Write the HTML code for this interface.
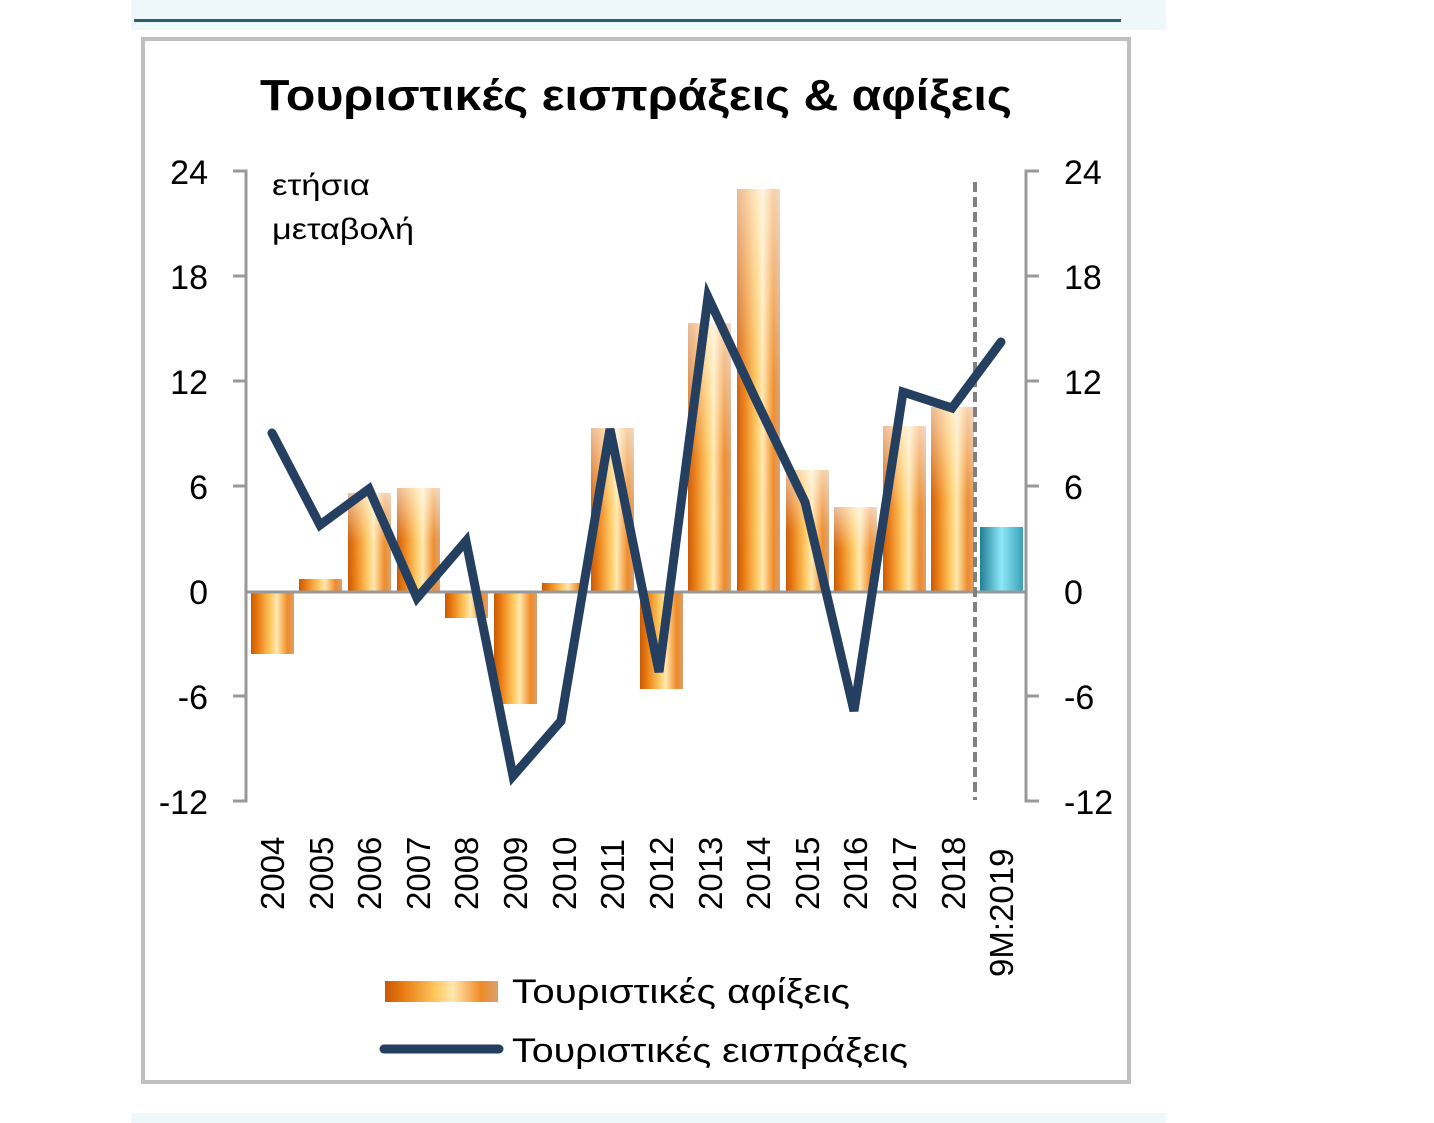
<!DOCTYPE html>
<html><head><meta charset="utf-8"><style>
html,body{margin:0;padding:0;background:#fff;width:1434px;height:1123px;overflow:hidden}
svg{display:block}
text{font-family:"Liberation Sans","DejaVu Sans",sans-serif}
</style></head><body>
<svg width="1434" height="1123" viewBox="0 0 1434 1123" xmlns="http://www.w3.org/2000/svg">
<defs>
<linearGradient id="og" x1="0" x2="1" y1="0" y2="0">
<stop offset="0" stop-color="#c85a08"/><stop offset="0.15" stop-color="#e8780f"/>
<stop offset="0.45" stop-color="#ffc860"/><stop offset="0.6" stop-color="#ffe8b0"/>
<stop offset="0.85" stop-color="#f08a25"/><stop offset="1" stop-color="#d8a070"/>
</linearGradient>
<linearGradient id="ov" x1="0" x2="0" y1="0" y2="1">
<stop offset="0" stop-color="#fff" stop-opacity="0.6"/><stop offset="0.5" stop-color="#fff" stop-opacity="0.05"/><stop offset="1" stop-color="#fff" stop-opacity="0"/>
</linearGradient>
<linearGradient id="bg" x1="0" x2="1" y1="0" y2="0">
<stop offset="0" stop-color="#1f7f98"/><stop offset="0.5" stop-color="#8ee8f8"/><stop offset="1" stop-color="#3aa0b8"/>
</linearGradient>
</defs>
<rect x="131" y="0" width="1035" height="30" fill="#eef7f9"/>
<rect x="134" y="19" width="987" height="3" fill="#2f5f6a"/>
<rect x="131" y="1113" width="1035" height="10" fill="#eef7f9"/>
<rect x="143" y="39" width="986" height="1043" fill="#fff" stroke="#bfbfbf" stroke-width="4"/>
<text x="260" y="110" font-size="44" font-weight="bold" fill="#000" textLength="752" lengthAdjust="spacingAndGlyphs">Τουριστικές εισπράξεις &amp; αφίξεις</text>
<g stroke="#999" stroke-width="3" fill="none">
<path d="M233 171H246V801H233"/>
<path d="M233 276H246M233 381H246M233 486H246M233 696H246"/>
<path d="M1039 171H1026V801H1039"/>
<path d="M1026 276H1039M1026 381H1039M1026 486H1039M1026 696H1039"/>
</g>
<g font-size="34" fill="#000" text-anchor="end">
<text x="208" y="184">24</text><text x="208" y="289">18</text><text x="208" y="394">12</text>
<text x="208" y="499">6</text><text x="208" y="604">0</text><text x="208" y="709">-6</text><text x="208" y="814">-12</text>
</g>
<g font-size="34" fill="#000">
<text x="1064" y="184">24</text><text x="1064" y="289">18</text><text x="1064" y="394">12</text>
<text x="1064" y="499">6</text><text x="1064" y="604">0</text><text x="1064" y="709">-6</text><text x="1064" y="814">-12</text>
</g>
<text x="272" y="195" font-size="30" fill="#000" textLength="98" lengthAdjust="spacingAndGlyphs">ετήσια</text>
<text x="272" y="239" font-size="30" fill="#000" textLength="142" lengthAdjust="spacingAndGlyphs">μεταβολή</text>
<g>
<rect x="251" y="591" width="43" height="63" fill="url(#og)"/>
<rect x="299" y="579" width="43" height="12" fill="url(#og)"/>
<rect x="348" y="493" width="43" height="98" fill="url(#og)"/>
<rect x="397" y="488" width="43" height="103" fill="url(#og)"/>
<rect x="445" y="591" width="43" height="27" fill="url(#og)"/>
<rect x="494" y="591" width="43" height="113" fill="url(#og)"/>
<rect x="542" y="583" width="43" height="8" fill="url(#og)"/>
<rect x="591" y="428" width="43" height="163" fill="url(#og)"/>
<rect x="640" y="591" width="43" height="98" fill="url(#og)"/>
<rect x="688" y="323" width="43" height="268" fill="url(#og)"/>
<rect x="737" y="189" width="43" height="402" fill="url(#og)"/>
<rect x="786" y="470" width="43" height="121" fill="url(#og)"/>
<rect x="834" y="507" width="43" height="84" fill="url(#og)"/>
<rect x="883" y="426" width="43" height="165" fill="url(#og)"/>
<rect x="931" y="407" width="43" height="184" fill="url(#og)"/>
<rect x="980" y="527" width="43" height="64" fill="url(#bg)"/>
</g>
<g fill="url(#ov)">
<rect x="348" y="493" width="43" height="98"/><rect x="397" y="488" width="43" height="103"/>
<rect x="591" y="428" width="43" height="163"/><rect x="688" y="323" width="43" height="268"/>
<rect x="737" y="189" width="43" height="402"/><rect x="786" y="470" width="43" height="121"/>
<rect x="834" y="507" width="43" height="84"/><rect x="883" y="426" width="43" height="165"/>
<rect x="931" y="407" width="43" height="184"/>
</g>
<line x1="246" y1="592" x2="1026" y2="592" stroke="#999" stroke-width="3"/>
<line x1="975" y1="182" x2="975" y2="800" stroke="#808080" stroke-width="4" stroke-dasharray="10,5"/>
<polyline fill="none" stroke="#243f60" stroke-width="9" stroke-linejoin="miter" stroke-linecap="round"
points="272,433 320,525 369,489 417,598 466,541 513,776 561,721 610,429 659,672 708,297 756,400 805,502 854,711 903,392 952,408 1001,342"/>
<g font-size="33" fill="#000">
<text transform="translate(284,910) rotate(-90)">2004</text>
<text transform="translate(333,910) rotate(-90)">2005</text>
<text transform="translate(381,910) rotate(-90)">2006</text>
<text transform="translate(430,910) rotate(-90)">2007</text>
<text transform="translate(478,910) rotate(-90)">2008</text>
<text transform="translate(527,910) rotate(-90)">2009</text>
<text transform="translate(576,910) rotate(-90)">2010</text>
<text transform="translate(624,910) rotate(-90)">2011</text>
<text transform="translate(673,910) rotate(-90)">2012</text>
<text transform="translate(722,910) rotate(-90)">2013</text>
<text transform="translate(770,910) rotate(-90)">2014</text>
<text transform="translate(819,910) rotate(-90)">2015</text>
<text transform="translate(867,910) rotate(-90)">2016</text>
<text transform="translate(916,910) rotate(-90)">2017</text>
<text transform="translate(965,910) rotate(-90)">2018</text>
<text transform="translate(1013,977) rotate(-90)">9M:2019</text>
</g>
<rect x="385" y="981" width="113" height="21" fill="url(#og)"/>
<text x="512" y="1003" font-size="34" fill="#000" textLength="338" lengthAdjust="spacingAndGlyphs">Τουριστικές αφίξεις</text>
<line x1="384" y1="1049" x2="499" y2="1049" stroke="#243f60" stroke-width="9" stroke-linecap="round"/>
<text x="512" y="1062" font-size="34" fill="#000" textLength="396" lengthAdjust="spacingAndGlyphs">Τουριστικές εισπράξεις</text>
</svg>
</body></html>
